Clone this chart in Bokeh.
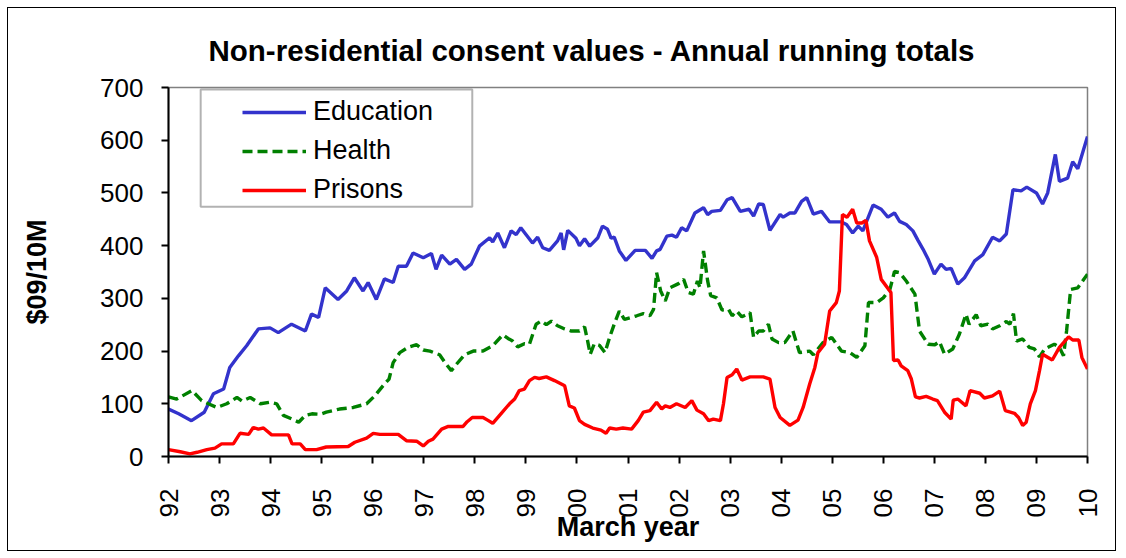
import math
from bokeh.plotting import figure
from bokeh.models import (ColumnDataSource, FixedTicker, Legend, LegendItem,
                          BoxAnnotation)
from bokeh.embed import file_html
from bokeh.resources import INLINE

# ---------------- data ----------------
edu_year = [1992.0, 1992.2, 1992.45, 1992.7, 1992.88,
            1993.08, 1993.2, 1993.37, 1993.53, 1993.76, 1993.99,
            1994.15, 1994.41, 1994.68, 1994.8, 1994.94,
            1995.07, 1995.32, 1995.49, 1995.64, 1995.81, 1995.91,
            1996.07, 1996.23, 1996.4, 1996.5, 1996.66, 1996.79, 1996.99,
            1997.15, 1997.24, 1997.35, 1997.51, 1997.64, 1997.8, 1997.93,
            1998.09, 1998.29, 1998.35, 1998.45, 1998.58, 1998.71, 1998.81, 1998.9,
            1999.13, 1999.23, 1999.33, 1999.46, 1999.62, 1999.69, 1999.74, 1999.82, 1999.98,
            2000.05, 2000.15, 2000.25, 2000.41, 2000.5, 2000.6, 2000.67, 2000.73, 2000.83, 2000.96,
            2001.14, 2001.34, 2001.47, 2001.56, 2001.63, 2001.76, 2001.86, 2001.95,
            2002.05, 2002.15, 2002.31, 2002.48, 2002.56, 2002.64, 2002.81, 2002.94,
            2003.04, 2003.2, 2003.37, 2003.46, 2003.56, 2003.65, 2003.78, 2003.98,
            2004.04, 2004.17, 2004.27, 2004.4, 2004.5, 2004.63, 2004.79, 2004.95,
            2005.18, 2005.28, 2005.4, 2005.51, 2005.6, 2005.8, 2005.96,
            2006.09, 2006.22, 2006.32, 2006.45, 2006.58, 2006.68, 2006.78, 2006.88,
            2007.0, 2007.13, 2007.23, 2007.33, 2007.46, 2007.59, 2007.79, 2007.95,
            2008.14, 2008.28, 2008.41, 2008.54, 2008.7, 2008.81,
            2009.0, 2009.12, 2009.22, 2009.37, 2009.45, 2009.61, 2009.71, 2009.81, 2010.0]
education = [90, 81, 68, 84, 119,
             128, 169, 191, 210, 242, 244,
             235, 251, 238, 270, 264,
             320, 298, 314, 339, 314, 330,
             298, 337, 330, 361, 361, 386, 377,
             385, 355, 382, 365, 374, 355, 365,
             399, 415, 407, 424, 396, 428, 421, 434,
             405, 416, 396, 391, 409, 424, 392, 429, 414,
             400, 413, 399, 415, 437, 431, 414, 416, 390, 372,
             391, 391, 376, 390, 393, 418, 420, 416,
             434, 428, 462, 472, 459, 465, 467, 487,
             491, 465, 469, 456, 479, 478, 429, 459,
             454, 462, 462, 484, 491, 460, 465, 445,
             445, 440, 424, 437, 428, 477, 469,
             454, 462, 446, 440, 428, 410, 393, 374,
             346, 365, 355, 357, 327, 339, 371, 383,
             416, 409, 422, 506, 504, 511,
             500, 479, 500, 573, 522, 528, 559, 546, 607]

health_year = [1992.0, 1992.16, 1992.46, 1992.65, 1992.78, 1992.95,
               1993.14, 1993.34, 1993.44, 1993.6, 1993.8, 1993.99,
               1994.12, 1994.25, 1994.42, 1994.55, 1994.68, 1994.81, 1994.97,
               1995.09, 1995.35, 1995.62, 1995.88,
               1996.04, 1996.2, 1996.32, 1996.4, 1996.53, 1996.69, 1996.86, 1996.99,
               1997.12, 1997.31, 1997.44, 1997.54, 1997.64, 1997.8, 1997.97,
               1998.16, 1998.35, 1998.55, 1998.65, 1998.74, 1998.84, 1998.97,
               1999.07, 1999.2, 1999.3, 1999.4, 1999.5, 1999.62, 1999.76, 1999.89,
               2000.05, 2000.15, 2000.21, 2000.26, 2000.34, 2000.44, 2000.55, 2000.64, 2000.73, 2000.83, 2000.93,
               2001.07, 2001.17, 2001.3, 2001.43, 2001.5, 2001.56, 2001.64, 2001.73, 2001.82, 2001.99,
               2002.09, 2002.18, 2002.28, 2002.36, 2002.41, 2002.48, 2002.56, 2002.62, 2002.74, 2002.84, 2002.97,
               2003.04, 2003.13, 2003.23, 2003.32, 2003.39, 2003.46, 2003.56, 2003.65, 2003.75, 2003.82, 2003.95,
               2004.07, 2004.23, 2004.36, 2004.56, 2004.63, 2004.82, 2004.99,
               2005.18, 2005.35, 2005.48, 2005.64, 2005.71, 2005.87,
               2006.0, 2006.13, 2006.22, 2006.32, 2006.45, 2006.62, 2006.71, 2006.88,
               2007.01, 2007.1, 2007.2, 2007.36, 2007.49, 2007.62, 2007.68, 2007.82, 2007.91,
               2008.05, 2008.14, 2008.28, 2008.41, 2008.48, 2008.55, 2008.61, 2008.73, 2008.86, 2008.96,
               2009.06, 2009.16, 2009.35, 2009.45, 2009.53, 2009.59, 2009.67, 2009.81, 2010.0]
health = [113, 109, 125, 106, 100, 93,
          100, 112, 105, 112, 100, 103,
          100, 78, 71, 65, 78, 81, 80,
          84, 90, 93, 100,
          115, 134, 147, 178, 197, 207, 212, 202,
          200, 193, 175, 163, 175, 193, 200,
          200, 210, 231, 224, 219, 208, 214,
          213, 251, 257, 250, 257, 248, 242, 238,
          238, 246, 219, 194, 214, 211, 197, 226, 251, 276, 260,
          264, 267, 271, 267, 279, 349, 314, 295, 320, 328,
          336, 311, 308, 333, 320, 390, 333, 305, 301, 278, 279,
          267, 276, 265, 269, 273, 226, 238, 238, 251, 223, 216,
          216, 238, 197, 200, 193, 216, 226,
          200, 197, 188, 210, 292, 292,
          301, 317, 351, 349, 333, 308, 238, 213,
          212, 218, 194, 204, 232, 270, 251, 269, 248,
          251, 242, 248, 256, 251, 271, 219, 223, 207, 204,
          189, 204, 213, 207, 191, 238, 317, 320, 346]

prison_year = [1992.0, 1992.23, 1992.42, 1992.56, 1992.75, 1992.91,
               1993.04, 1993.27, 1993.4, 1993.57, 1993.66, 1993.76, 1993.86,
               1994.02, 1994.35, 1994.42, 1994.58, 1994.68, 1994.9,
               1995.09, 1995.52, 1995.65, 1995.88,
               1996.01, 1996.14, 1996.5, 1996.66, 1996.86, 1996.99,
               1997.09, 1997.18, 1997.35, 1997.48, 1997.77, 1997.85, 1997.95,
               1998.16, 1998.25, 1998.35, 1998.51, 1998.68, 1998.78, 1998.87, 1998.97,
               1999.07, 1999.17, 1999.26, 1999.4, 1999.56, 1999.76, 1999.85, 1999.95,
               2000.05, 2000.15, 2000.31, 2000.47, 2000.57, 2000.64, 2000.77, 2000.9,
               2001.07, 2001.2, 2001.3, 2001.43, 2001.56, 2001.66, 2001.73, 2001.82, 2001.95,
               2002.12, 2002.25, 2002.35, 2002.48, 2002.58, 2002.67, 2002.81, 2002.87, 2002.94,
               2003.04, 2003.13, 2003.23, 2003.39, 2003.65, 2003.78, 2003.88, 2003.98,
               2004.17, 2004.33, 2004.43, 2004.56, 2004.66, 2004.72, 2004.85, 2004.95,
               2005.08, 2005.14, 2005.2, 2005.29, 2005.4, 2005.48, 2005.58, 2005.66, 2005.73, 2005.87, 2005.96,
               2006.15, 2006.2, 2006.29, 2006.35, 2006.48, 2006.55, 2006.63, 2006.71, 2006.84, 2006.97,
               2007.06, 2007.2, 2007.33, 2007.37, 2007.46, 2007.62, 2007.7, 2007.89, 2007.98,
               2008.14, 2008.28, 2008.39, 2008.57, 2008.65, 2008.73, 2008.8, 2008.88, 2008.98,
               2009.06, 2009.12, 2009.31, 2009.45, 2009.63, 2009.71, 2009.83, 2009.89, 2010.0]
prisons = [13, 9, 5, 8, 13, 16,
           24, 24, 44, 42, 55, 52, 54,
           41, 41, 24, 24, 13, 13,
           18, 19, 27, 35,
           44, 42, 42, 30, 29, 20,
           29, 33, 52, 57, 57, 66, 74,
           74, 69, 63, 81, 100, 109, 125, 128,
           144, 150, 148, 151, 144, 134, 96, 92,
           68, 61, 54, 50, 44, 54, 52, 54,
           52, 68, 84, 87, 103, 90, 96, 93, 100,
           93, 106, 88, 81, 68, 71, 68, 100, 150,
           155, 166, 145, 151, 151, 147, 93, 74,
           59, 69, 93, 138, 169, 197, 213, 276,
           292, 314, 459, 454, 469, 443, 443, 448, 409, 378, 336,
           311, 182, 183, 172, 163, 147, 113, 111, 114, 109,
           106, 84, 71, 107, 109, 96, 125, 120, 111,
           115, 124, 87, 82, 74, 59, 65, 100, 125,
           163, 194, 183, 207, 227, 221, 221, 188, 166]

tick_years = list(range(1992, 2011))
tick_labels = ["92", "93", "94", "95", "96", "97", "98", "99", "00",
               "01", "02", "03", "04", "05", "06", "07", "08", "09", "10"]
y_ticks = [0, 100, 200, 300, 400, 500, 600, 700]

series_names = ["Education", "Health", "Prisons"]

# ---------------- figure ----------------
FONT = "Liberation Sans"

p = figure(width=1109, height=544, output_backend="svg", toolbar_location=None,
           x_range=(1992, 2010), y_range=(0, 700),
           min_border_left=160, min_border_right=30,
           min_border_top=79, min_border_bottom=96)
p.styles = {"border": "1px solid black", "margin": "7px"}

p.title.text = "Non-residential consent values - Annual running totals"
p.title.text_font = FONT
p.title.text_font_size = "29.5px"
p.title.text_font_style = "bold"
p.title.text_color = "black"
p.title.align = "left"
p.title.offset = 40
p.title.standoff = 42

p.xgrid.visible = False
p.ygrid.visible = False
p.outline_line_color = "#808080"
p.outline_line_width = 1.5
p.background_fill_color = "white"
p.border_fill_color = "white"

# x axis
p.xaxis.ticker = FixedTicker(ticks=tick_years)
p.xaxis.major_label_overrides = {y: l for y, l in zip(tick_years, tick_labels)}
p.xaxis.major_label_orientation = math.pi / 2
p.xaxis.major_label_text_font = FONT
p.xaxis.major_label_text_font_size = "26px"
p.xaxis.major_label_text_color = "black"
p.xaxis.major_label_standoff = 25
p.xaxis.axis_label = "March year"
p.xaxis.axis_label_text_font = FONT
p.xaxis.axis_label_text_font_size = "27px"
p.xaxis.axis_label_text_font_style = "bold"
p.xaxis.axis_label_text_color = "black"
p.xaxis.axis_label_standoff = -8

# y axis
p.yaxis.ticker = FixedTicker(ticks=y_ticks)
p.yaxis.major_label_text_font = FONT
p.yaxis.major_label_text_font_size = "26px"
p.yaxis.major_label_text_color = "black"
p.yaxis.major_label_standoff = 18
p.yaxis.axis_label = "$09/10M"
p.yaxis.axis_label_text_font = FONT
p.yaxis.axis_label_text_font_size = "27px"
p.yaxis.axis_label_text_font_style = "bold"
p.yaxis.axis_label_text_color = "black"
p.yaxis.axis_label_standoff = 45

for ax in (p.xaxis, p.yaxis):
    ax.axis_line_color = "black"
    ax.axis_line_width = 2
    ax.major_tick_line_color = "black"
    ax.major_tick_line_width = 2
    ax.major_tick_in = 0
    ax.major_tick_out = 7
    ax.minor_tick_line_color = None

# legend frame (box in data space)
box = BoxAnnotation(left=1992.63, right=1997.95, bottom=474, top=696,
                    fill_color="white", fill_alpha=1.0,
                    line_color="black", line_width=2, level="underlay")
p.add_layout(box)

# ---------------- series ----------------
src_e = ColumnDataSource(dict(x=edu_year, y=education))
src_h = ColumnDataSource(dict(x=health_year, y=health))
src_p = ColumnDataSource(dict(x=prison_year, y=prisons))

r_e = p.line("x", "y", source=src_e, line_color="#3333CC", line_width=3.4)
r_h = p.line("x", "y", source=src_h, line_color="#008000", line_width=3.4,
             line_dash="10 5")
r_p = p.line("x", "y", source=src_p, line_color="#FF0000", line_width=3.4)

legend = Legend(items=[LegendItem(label=series_names[0], renderers=[r_e]),
                       LegendItem(label=series_names[1], renderers=[r_h]),
                       LegendItem(label=series_names[2], renderers=[r_p])],
                location=(74, 251), padding=0, spacing=8,
                glyph_width=64, glyph_height=30, label_height=30,
                label_standoff=7, border_line_alpha=0,
                background_fill_alpha=0,
                label_text_font=FONT, label_text_font_size="27px",
                label_text_color="black")
p.add_layout(legend)

open("out.html", "w").write(file_html(p, INLINE))
